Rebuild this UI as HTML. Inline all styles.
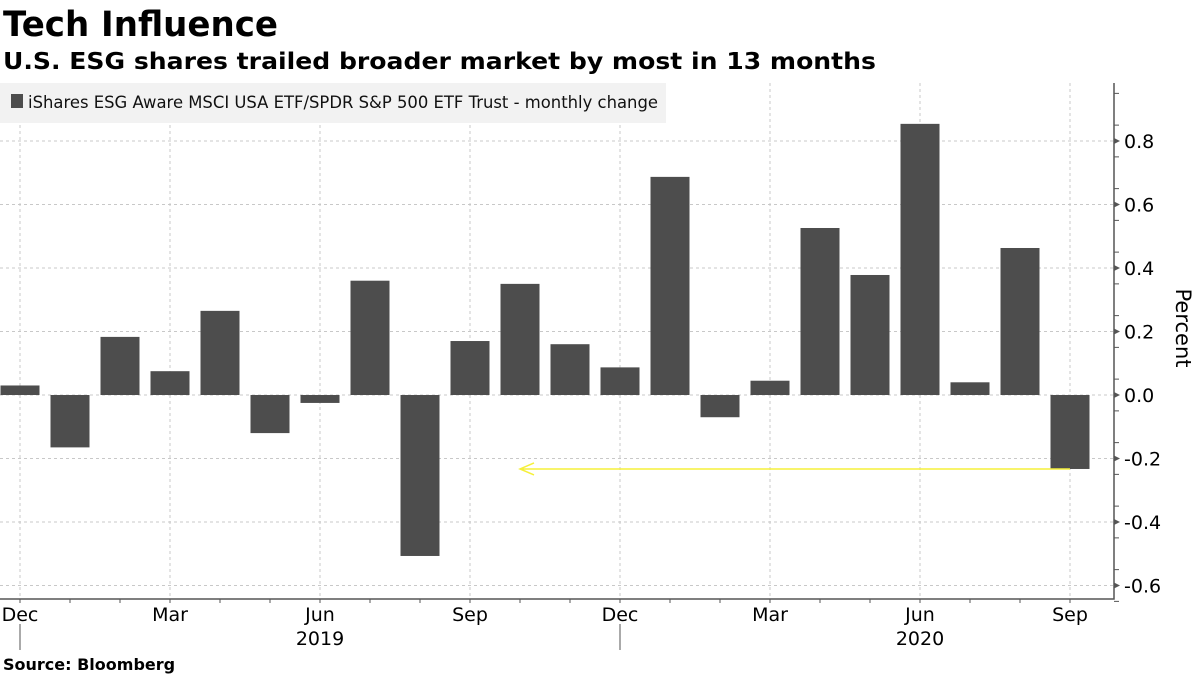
<!DOCTYPE html>
<html><head><meta charset="utf-8"><style>
body{margin:0;background:#fff;width:1200px;height:675px;overflow:hidden;font-family:"DejaVu Sans","Liberation Sans",sans-serif}
svg text{font-family:"DejaVu Sans","Liberation Sans",sans-serif}
</style></head><body>
<svg id="c" width="1200" height="675">
<text x="3" y="36" font-size="35" font-weight="bold" fill="#000" textLength="275" lengthAdjust="spacingAndGlyphs">Tech Influence</text>
<text x="3" y="69" font-size="23" font-weight="bold" fill="#000" textLength="873" lengthAdjust="spacingAndGlyphs">U.S. ESG shares trailed broader market by most in 13 months</text>
<g id="grid"></g>
<g id="bars"></g>
<g id="axes"></g>
<rect x="0" y="83" width="666" height="40" fill="#f2f2f2"/>
<rect x="11" y="94" width="12" height="14" fill="#4d4d4d"/>
<text x="28" y="108" font-size="17" fill="#111" textLength="630" lengthAdjust="spacingAndGlyphs">iShares ESG Aware MSCI USA ETF/SPDR S&amp;P 500 ETF Trust - monthly change</text>
<text transform="translate(1176,328) rotate(90)" text-anchor="middle" font-size="21" fill="#000">Percent</text>
<text x="3" y="670" font-size="16" font-weight="bold" fill="#000">Source: Bloomberg</text>
</svg>
<script>
const months=["Dec","Jan","Feb","Mar","Apr","May","Jun","Jul","Aug","Sep","Oct","Nov","Dec","Jan","Feb","Mar","Apr","May","Jun","Jul","Aug","Sep"];
const values=[0.03,-0.165,0.183,0.075,0.265,-0.12,-0.025,0.36,-0.507,0.17,0.35,0.16,0.087,0.687,-0.07,0.045,0.526,0.378,0.854,0.04,0.463,-0.233];
const yTicks=[0.8,0.6,0.4,0.2,0.0,-0.2,-0.4,-0.6];
const yTickLabels=["0.8","0.6","0.4","0.2","0.0","-0.2","-0.4","-0.6"];
const xLabelIdx=[0,3,6,9,12,15,18,21];
const years=["2019","2020"];
const yearPos=[6,18];
const arrowValue=-0.233;
const arrowFromIdx=21, arrowToIdx=10;

const NS="http://www.w3.org/2000/svg";
const X=i=>20+50*i;
const Y=v=>395-v*317.5;
const AX=1114, AY=599;
function mk(tag,attrs,parent){const e=document.createElementNS(NS,tag);for(const k in attrs)e.setAttribute(k,attrs[k]);document.getElementById(parent).appendChild(e);return e;}

yTicks.forEach((t,i)=>{
  const g=mk("line",{x1:0,x2:AX,y1:Y(t),y2:Y(t),stroke:"#c8c8c8","stroke-dasharray":"3,3"},"grid");
  
  
  const tk=mk("path",{d:`M${AX} ${Y(t)-3}L${AX+6} ${Y(t)}L${AX} ${Y(t)+3}Z`,fill:"#555"},"axes");
  
  
  const tx=mk("text",{x:AX+10,y:Y(t)+7,"font-size":"19",fill:"#000"},"axes");
  tx.textContent=yTickLabels[i];
  
  
});
for(let v=-0.65;v<=0.95;v+=0.1){
  const m=mk("line",{x1:AX,x2:AX+5,y1:Y(v),y2:Y(v),stroke:"#555"},"axes");
  
  
}
xLabelIdx.forEach(i=>{
  const g=mk("line",{x1:X(i),x2:X(i),y1:83,y2:AY,stroke:"#c8c8c8","stroke-dasharray":"3,3"},"grid");
  
  
});
months.forEach((m,i)=>{
  const t=mk("line",{x1:X(i),x2:X(i),y1:AY,y2:AY+4,stroke:"#555"},"axes");
  
  
  const h=Math.abs(Y(values[i])-Y(0));
  const b=mk("rect",{x:X(i)-19.5,y:Math.min(Y(values[i]),Y(0)),width:39,height:h,fill:"#4d4d4d"},"bars");
  
  
});
xLabelIdx.forEach(i=>{
  const t=mk("text",{x:X(i),y:621,"text-anchor":"middle","font-size":"19",fill:"#000"},"axes");
  t.textContent=months[i];
  
  
});
[0,12].forEach(i=>{
  const s=mk("line",{x1:X(i),x2:X(i),y1:AY+25,y2:650,stroke:"#555"},"axes");
  
  
});
years.forEach((y,k)=>{
  const t=mk("text",{x:X(yearPos[k]),y:645,"text-anchor":"middle","font-size":"19",fill:"#000"},"axes");
  t.textContent=y;
  
  
});
const ax=mk("path",{d:`M0 ${AY}H${AX}V83`,fill:"none",stroke:"#555","stroke-width":"1.5"},"axes");


const ay=Y(arrowValue), x0=X(arrowToIdx), x1=X(arrowFromIdx);
const ar=mk("path",{d:`M${x1} ${ay}H${x0}M${x0+14} ${ay-6}L${x0} ${ay}L${x0+14} ${ay+6}`,fill:"none",stroke:"#f5f03a","stroke-width":"1.5"},"axes");


</script>
</body></html>
